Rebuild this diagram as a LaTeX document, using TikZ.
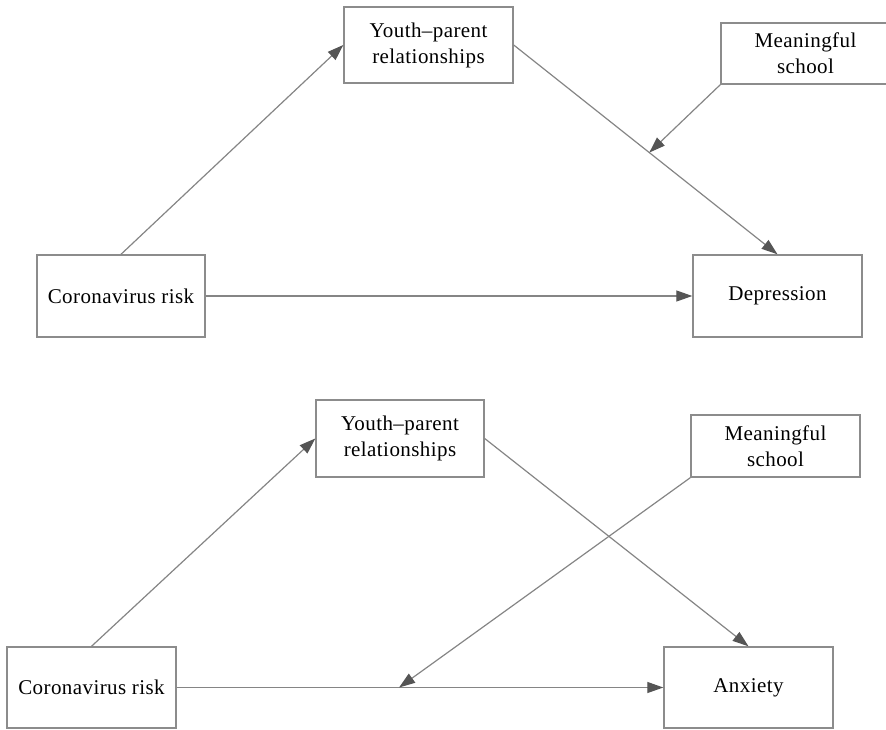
\documentclass[tikz,border=0pt]{standalone}
\usepackage{fontspec}
\setmainfont{Liberation Serif}[LetterSpace=2]
\usetikzlibrary{arrows.meta,calc}
\definecolor{boxgray}{HTML}{8C8C8C}
\definecolor{linegray}{HTML}{858585}
\definecolor{headgray}{HTML}{555555}
\tikzset{
  varbox/.style={draw=boxgray, line width=1.4pt, inner sep=0pt, align=center,
    font=\fontsize{21}{26}\selectfont, text=black},
  conn/.style={draw=linegray, line width=1.2pt,
    -{Triangle[length=16pt,width=11pt,color=headgray]}},
}
\begin{document}
\begin{tikzpicture}[x=1pt,y=-1pt]
\useasboundingbox (0,0) rectangle (886,730);
% top panel
\node[varbox, minimum width=169pt, minimum height=76pt] (yp1) at (428.5,45) {Youth--parent\\relationships};
\node[varbox, minimum width=169pt, minimum height=61pt] (ms1) at (805.5,53.5) {Meaningful\\school};
\node[varbox, minimum width=168pt, minimum height=82pt] (cr1) at (121,296) {Coronavirus risk};
\node[varbox, minimum width=169pt, minimum height=82pt] (dep) at (777.5,296) {Depression};
\coordinate (m1) at ($(yp1.east)!0.514!(dep.north)$);
\draw[conn] (cr1.north) -- (yp1.west);
\draw[conn] (yp1.east) -- (dep.north);
\draw[conn] (cr1.east) -- (dep.west);
\draw[conn] (ms1.south west) -- (m1);
% bottom panel
\node[varbox, minimum width=168pt, minimum height=77pt] (yp2) at (400,438.5) {Youth--parent\\relationships};
\node[varbox, minimum width=169pt, minimum height=62pt] (ms2) at (775.5,446) {Meaningful\\school};
\node[varbox, minimum width=169pt, minimum height=81pt] (cr2) at (91.5,687.5) {Coronavirus risk};
\node[varbox, minimum width=169pt, minimum height=81pt] (anx) at (748.5,687.5) {Anxiety};
\coordinate (m2) at ($(cr2.east)!0.457!(anx.west)$);
\draw[conn] (cr2.north) -- (yp2.west);
\draw[conn] (yp2.east) -- (anx.north);
\draw[conn] (cr2.east) -- (anx.west);
\draw[conn] (ms2.south west) -- (m2);
\end{tikzpicture}
\end{document}
